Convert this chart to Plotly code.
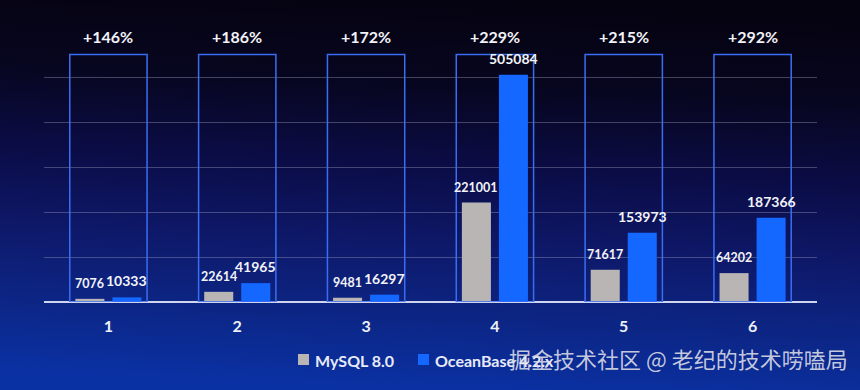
import base64
import plotly.graph_objects as go

# ---- data ----
categories = ["1", "2", "3", "4", "5", "6"]
mysql_values = [7076, 22614, 9481, 221001, 71617, 64202]
oceanbase_values = [10333, 41965, 16297, 505084, 153973, 187366]
pct_labels = ["+146%", "+186%", "+172%", "+229%", "+215%", "+292%"]
series_names = ["MySQL 8.0", "OceanBase 4.2.x"]
watermark = "掘金技术社区 @ 老纪的技术唠嗑局"

GRAY = "#b9b5b5"
BLUE = "#1467ff"
W, H = 860, 390
ML, MR, MT, MB = 44, 43, 32, 88
PW, PH = W - ML - MR, H - MT - MB

def px_x(p):
    return (p - ML) / PW

def px_y(p):
    return (H - MB - p) / PH

fig = go.Figure()
fig.add_trace(go.Bar(name=series_names[0], x=categories, y=mysql_values,
                     marker=dict(color=GRAY, line=dict(width=0))))
fig.add_trace(go.Bar(name=series_names[1], x=categories, y=oceanbase_values,
                     marker=dict(color=BLUE, line=dict(width=0))))

annotations = []
shapes = []
label_font = dict(family="Lato", color="#f2f3f8")
for i, c in enumerate(categories):
    annotations.append(dict(x=i, y=mysql_values[i], xref="x", yref="y", text=str(mysql_values[i]),
                            showarrow=False, xshift=-18.5, yshift=6, yanchor="bottom",
                            font=dict(size=12.5, weight="bold", **label_font)))
    annotations.append(dict(x=i, y=oceanbase_values[i], xref="x", yref="y", text=str(oceanbase_values[i]),
                            showarrow=False, xshift=18.5, yshift=6, yanchor="bottom",
                            font=dict(size=14, weight="bold", **label_font)))
    annotations.append(dict(x=i, y=590000, xref="x", yref="y", text=pct_labels[i],
                            showarrow=False, yanchor="middle",
                            font=dict(size=16, weight="bold", **label_font)))
    shapes.append(dict(type="rect", xref="x", yref="y", x0=i - 0.3, x1=i + 0.3, y0=0, y1=550000,
                       line=dict(color="#3a6ef2", width=1.5), fillcolor="rgba(0,0,0,0)", layer="above"))

# manual legend
legend_items = [(298, 313, GRAY, series_names[0]), (418, 433, BLUE, series_names[1])]
for sq_x, tx, col, name in legend_items:
    shapes.append(dict(type="rect", xref="paper", yref="paper",
                       x0=px_x(sq_x), x1=px_x(sq_x + 11), y0=px_y(365), y1=px_y(354),
                       fillcolor=col, line=dict(width=0), layer="above"))
    annotations.append(dict(x=px_x(tx), y=px_y(360), xref="paper", yref="paper", text=name,
                            showarrow=False, xanchor="left", yanchor="middle",
                            font=dict(size=16, weight="bold", family="Lato", color="#e8ebf7")))

annotations.append(dict(x=px_x(678), y=px_y(358), xref="paper", yref="paper", text=watermark,
                        showarrow=False, xanchor="center", yanchor="middle",
                        font=dict(size=22, family="Noto Sans CJK SC", color="rgba(222,223,232,0.88)")))

# gradient background as an inline svg image
svg = f'''<svg xmlns="http://www.w3.org/2000/svg" width="{W}" height="{H}" viewBox="0 0 {W} {H}" preserveAspectRatio="none">
<defs><linearGradient id="g" x1="0.55" y1="0" x2="0.45" y2="1">
<stop offset="0" stop-color="#050310"/>
<stop offset="0.22" stop-color="#070620"/>
<stop offset="0.42" stop-color="#0b0c45"/>
<stop offset="0.62" stop-color="#0e1868"/>
<stop offset="0.82" stop-color="#0c2686"/>
<stop offset="1" stop-color="#0a31a4"/>
</linearGradient></defs>
<rect width="{W}" height="{H}" fill="url(#g)"/></svg>'''
src = "data:image/svg+xml;base64," + base64.b64encode(svg.encode()).decode()

fig.update_layout(
    width=W, height=H,
    margin=dict(l=ML, r=MR, t=MT, b=MB, pad=0),
    paper_bgcolor="#0b1250", plot_bgcolor="rgba(0,0,0,0)",
    barmode="group", bargap=0.425, bargroupgap=0.216,
    showlegend=False,
    annotations=annotations, shapes=shapes,
    images=[dict(source=src, xref="paper", yref="paper", x=-ML / PW, y=1 + MT / PH,
                 sizex=W / PW, sizey=H / PH, sizing="stretch", xanchor="left", yanchor="top",
                 layer="below")],
    xaxis=dict(type="category", range=[-0.5, len(categories) - 0.5],
               showgrid=False, showline=False, zeroline=False,
               ticks="outside", ticklen=10, tickcolor="rgba(0,0,0,0)",
               tickfont=dict(size=16, weight="bold", family="Lato", color="#eef0f8")),
    yaxis=dict(range=[0, 600000], dtick=100000, showticklabels=False,
               showgrid=True, gridcolor="rgba(150,150,180,0.42)", gridwidth=1,
               zeroline=True, zerolinecolor="#cfd5ee", zerolinewidth=1.5, showline=False),
)

fig.write_html("out.html")
